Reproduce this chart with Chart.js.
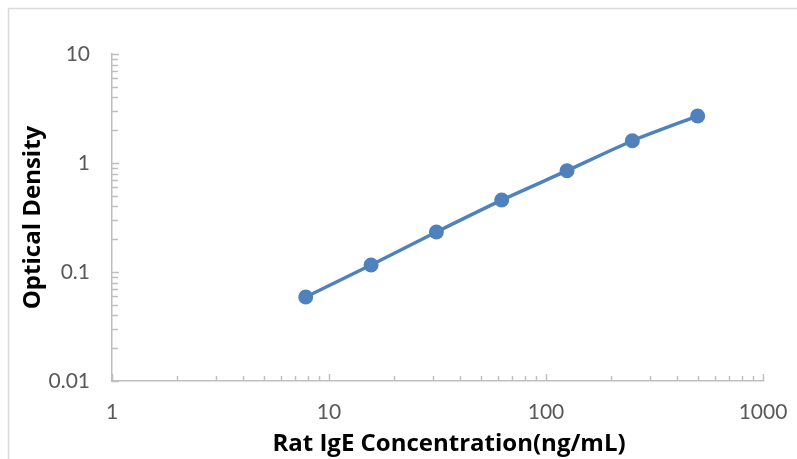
<!DOCTYPE html>
<html>
<head>
<meta charset="utf-8">
<script src="https://cdn.jsdelivr.net/npm/chart.js@4/dist/chart.umd.min.js"></script>
<style>
  html, body { margin: 0; padding: 0; background: #fff; }
  #wrap { width: 797px; height: 459px; position: relative; }
</style>
</head>
<body>
<div id="wrap"><canvas id="c" width="797" height="459"></canvas></div>
<script>
const concentrations = [7.8125, 15.625, 31.25, 62.5, 125, 250, 500];
const opticalDensity = [0.059, 0.116, 0.233, 0.457, 0.85, 1.60, 2.70];
const xTickLabels = ['1', '10', '100', '1000'];
const yTickLabels = ['0.01', '0.1', '1', '10'];
const xTitle = 'Rat IgE Concentration(ng/mL)';
const yTitle = 'Optical Density';

const AXIS_COLOR = '#bfbfbf';
const LABEL_COLOR = '#595959';
const SERIES_COLOR = '#4f81bd';
const FONT = 'Lato, "Liberation Sans", sans-serif';
const TITLE_FONT = '"Open Sans", Lato, sans-serif';

function decadeTicks(labels) {
  const min = parseFloat(labels[0]), max = parseFloat(labels[labels.length - 1]);
  const out = [];
  for (let e = Math.round(Math.log10(min)); e < Math.round(Math.log10(max)); e++) {
    for (let s = 1; s <= 9; s++) out.push({ value: parseFloat((s * Math.pow(10, e)).toPrecision(6)) });
  }
  out.push({ value: max });
  return out;
}
function labelFor(labels, v) {
  const l = labels.find(t => Math.abs(parseFloat(t) - v) < 1e-9 * Math.max(1, v));
  return l === undefined ? '' : l;
}
function isMajor(v) {
  const e = Math.log10(v);
  return Math.abs(e - Math.round(e)) < 1e-9;
}

const decorPlugin = {
  id: 'decor',
  beforeDraw(chart) {
    const ctx = chart.ctx;
    ctx.save();
    ctx.fillStyle = '#fff';
    ctx.fillRect(0, 0, chart.width, chart.height);
    ctx.strokeStyle = '#d9d9d9';
    ctx.lineWidth = 1.5;
    ctx.strokeRect(8.5, 8.5, chart.width + 20, chart.height + 20);
    ctx.restore();
  },
  afterDraw(chart) {
    const ctx = chart.ctx;
    const xs = chart.scales.x, ys = chart.scales.y;
    const area = chart.chartArea;
    ctx.save();
    ctx.strokeStyle = AXIS_COLOR;
    ctx.lineWidth = 1.5;
    ctx.beginPath();
    xs.ticks.forEach(t => {
      const px = Math.round(xs.getPixelForValue(t.value)) + 0.5;
      const len = isMajor(t.value) ? 7 : 5;
      ctx.moveTo(px, area.bottom);
      ctx.lineTo(px, area.bottom - len);
    });
    ys.ticks.forEach(t => {
      const py = Math.round(ys.getPixelForValue(t.value)) + 0.5;
      const len = isMajor(t.value) ? 7 : 6;
      ctx.moveTo(area.left, py);
      ctx.lineTo(area.left + len, py);
    });
    ctx.stroke();

    ctx.fillStyle = '#000';
    ctx.font = 'bold 24px ' + TITLE_FONT;
    ctx.textAlign = 'center';
    ctx.textBaseline = 'middle';
    ctx.fillText(xTitle, 449, 444);
    ctx.translate(33, (area.top + area.bottom) / 2);
    ctx.rotate(-Math.PI / 2);
    ctx.fillText(yTitle, 0, 0);
    ctx.restore();
  }
};

new Chart(document.getElementById('c'), {
  type: 'scatter',
  data: {
    datasets: [{
      data: concentrations.map((x, i) => ({ x, y: opticalDensity[i] })),
      showLine: true,
      borderColor: SERIES_COLOR,
      backgroundColor: SERIES_COLOR,
      borderWidth: 3.5,
      pointRadius: 7.5,
      pointHoverRadius: 7.5,
      pointBorderWidth: 0,
      tension: 0.2
    }]
  },
  options: {
    responsive: false,
    animation: false,
    devicePixelRatio: 1,
    layout: { padding: { left: 0, right: 34, top: 54, bottom: 0 } },
    plugins: { legend: { display: false }, tooltip: { enabled: false } },
    scales: {
      x: {
        type: 'logarithmic',
        min: 1, max: 1000,
        afterBuildTicks(scale) { scale.ticks = decadeTicks(xTickLabels); },
        afterFit(scale) { scale.height = 78; scale.paddingLeft = 0; scale.paddingRight = 0; },
        grid: { display: false, drawTicks: false },
        border: { display: true, color: AXIS_COLOR, width: 1.5 },
        ticks: {
          autoSkip: false, maxRotation: 0, padding: 19,
          color: LABEL_COLOR, font: { family: FONT, size: 21 },
          callback: (v) => labelFor(xTickLabels, v)
        }
      },
      y: {
        type: 'logarithmic',
        min: 0.01, max: 10,
        afterBuildTicks(scale) { scale.ticks = decadeTicks(yTickLabels); },
        afterFit(scale) { scale.width = 112; scale.paddingTop = 0; scale.paddingBottom = 0; },
        grid: { display: false, drawTicks: false },
        border: { display: true, color: AXIS_COLOR, width: 1.5 },
        ticks: {
          autoSkip: false, padding: 22,
          color: LABEL_COLOR, font: { family: FONT, size: 21 },
          callback: (v) => labelFor(yTickLabels, v)
        }
      }
    }
  },
  plugins: [decorPlugin]
});
</script>
</body>
</html>
